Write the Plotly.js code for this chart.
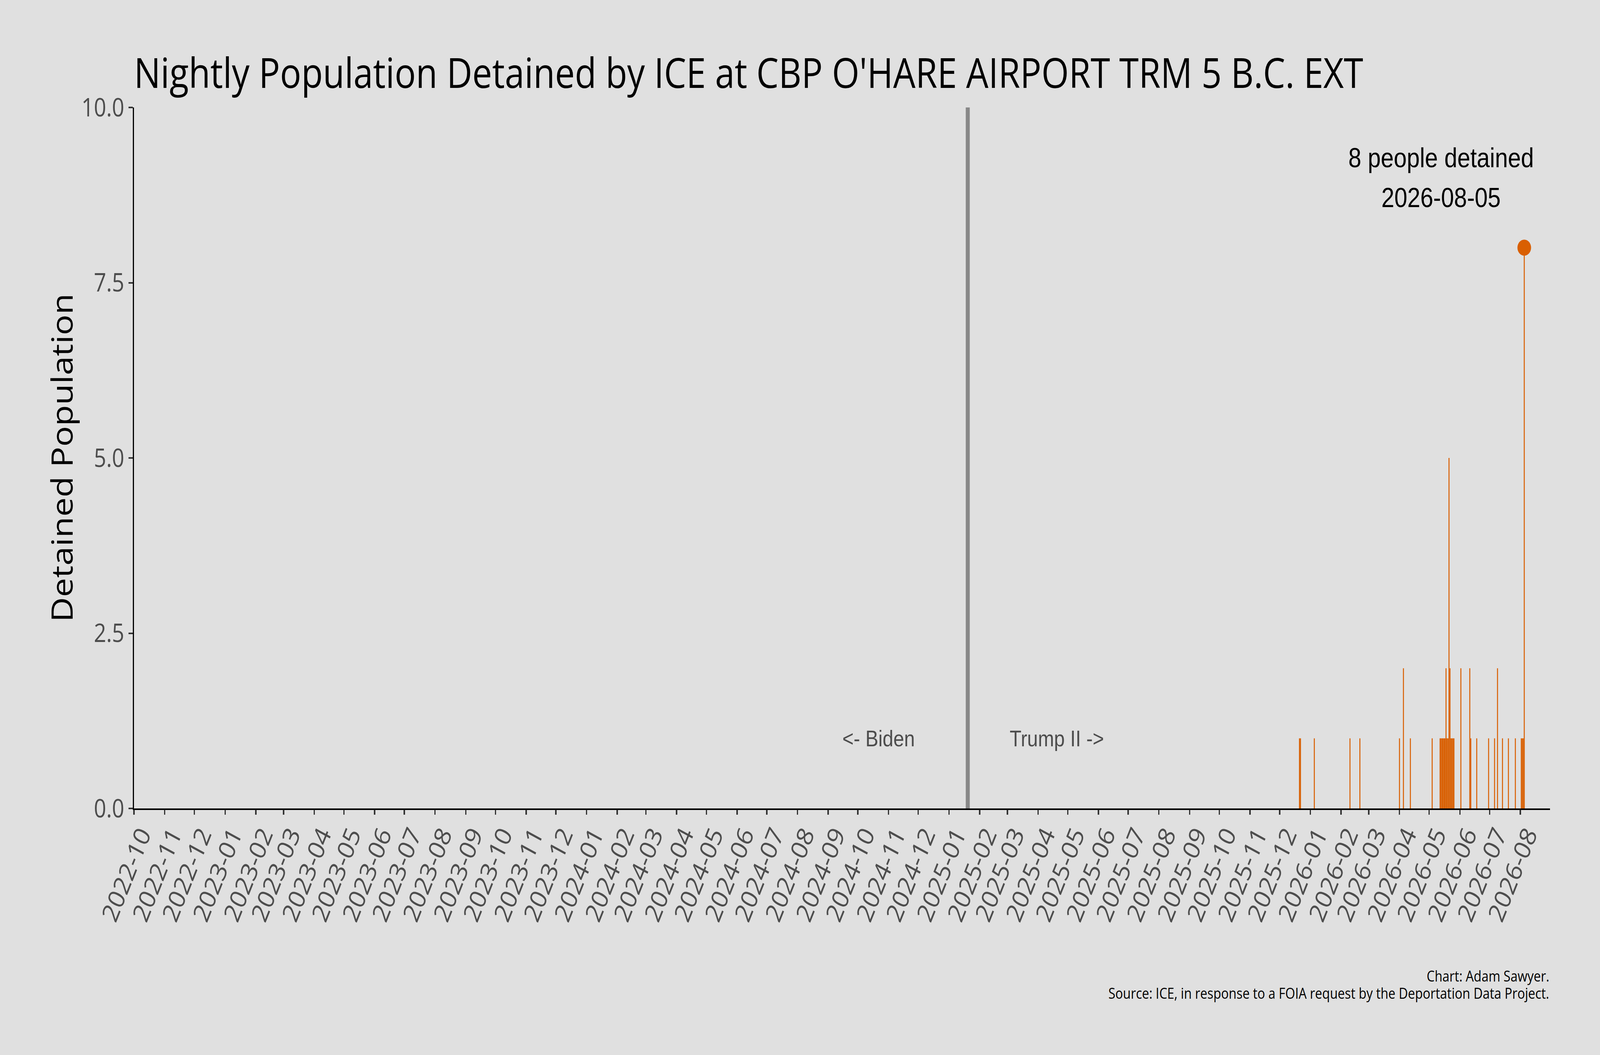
<!DOCTYPE html>
<html>
<head>
<meta charset="utf-8">
<script src="https://cdn.plot.ly/plotly-3.0.1.min.js"></script>
<style>
  html, body { margin: 0; padding: 0; background: #e0e0e0; overflow: hidden; }
  #chart { width: 4800px; height: 2700px; transform-origin: 0 0; }
</style>
</head>
<body>
<div id="chart"></div>
<script>
// ---- Data ----
const detentionDates = [
  '2025-12-21','2025-12-22','2026-01-05','2026-02-10','2026-02-20',
  '2026-04-01','2026-04-05','2026-04-12','2026-05-04',
  '2026-05-12','2026-05-13','2026-05-14','2026-05-15','2026-05-16','2026-05-17',
  '2026-05-18','2026-05-19','2026-05-20','2026-05-21','2026-05-22','2026-05-23',
  '2026-05-24','2026-05-25','2026-05-26',
  '2026-06-02','2026-06-11','2026-06-12','2026-06-18','2026-06-30',
  '2026-07-06','2026-07-09','2026-07-14','2026-07-20','2026-07-27',
  '2026-08-02','2026-08-03','2026-08-04','2026-08-05'
];
const detainedPopulation = [
  1,1,1,1,1,
  1,2,1,1,
  1,1,1,1,1,1,
  2,1,1,5,2,1,
  1,1,1,
  2,2,1,1,1,
  1,2,1,1,1,
  1,1,1,8
];
const monthTicks = [
  '2022-10','2022-11','2022-12',
  '2023-01','2023-02','2023-03','2023-04','2023-05','2023-06','2023-07','2023-08','2023-09','2023-10','2023-11','2023-12',
  '2024-01','2024-02','2024-03','2024-04','2024-05','2024-06','2024-07','2024-08','2024-09','2024-10','2024-11','2024-12',
  '2025-01','2025-02','2025-03','2025-04','2025-05','2025-06','2025-07','2025-08','2025-09','2025-10','2025-11','2025-12',
  '2026-01','2026-02','2026-03','2026-04','2026-05','2026-06','2026-07','2026-08'
];
const yTickVals = [0, 2.5, 5, 7.5, 10];
const yTickText = ['0.0', '2.5', '5.0', '7.5', '10.0'];
const xRange = ['2022-10-01', '2026-08-31'];
const inaugurationDate = '2025-01-20';
const eraLabels = ['<- Biden', 'Trump II ->'];
const eraLabelDates = ['2024-10-22', '2025-04-20'];
const eraLabelY = 1;
const peakLabelDate = '2026-05-13';
const facilityName = "CBP O'HARE AIRPORT TRM 5 B.C. EXT";
const captionLines = [
  'Chart: Adam Sawyer.',
  'Source: ICE, in response to a FOIA request by the Deportation Data Project.'
];

// ---- Derived ----
let peakIdx = 0;
detainedPopulation.forEach((v, i) => { if (v > detainedPopulation[peakIdx]) peakIdx = i; });
const peakDate = detentionDates[peakIdx];
const peakValue = detainedPopulation[peakIdx];

const ORANGE = '#D95F02';
const SANS = 'Open Sans, Noto Sans, sans-serif';
const ARIAL = 'Liberation Sans, Arial, sans-serif';

// Fit the 4800x2700 design to whatever viewport the page is opened in
const chartDiv = document.getElementById('chart');
const sx = (window.innerWidth || 4800) / 4800;
const sy = (window.innerHeight || 2700) / 2700;
chartDiv.style.transform = 'scale(' + sx + ',' + sy + ')';

const traces = [
  {
    type: 'bar',
    x: detentionDates,
    y: detainedPopulation,
    width: 86400000,
    marker: { color: ORANGE, line: { width: 0 } },
    showlegend: false
  },
  {
    type: 'scatter',
    mode: 'markers',
    x: [peakDate],
    y: [peakValue],
    marker: { color: ORANGE, size: 41, line: { width: 0 } },
    cliponaxis: false,
    showlegend: false
  }
];

const layout = {
  width: 4800,
  height: 2700,
  paper_bgcolor: '#e0e0e0',
  plot_bgcolor: '#e0e0e0',
  margin: { l: 402, r: 150, t: 275, b: 631 },
  showlegend: false,
  title: {
    text: 'Nightly Population Detained by ICE at ' + facilityName,
    font: { family: SANS, size: 106, color: '#000000' },
    xref: 'paper', x: 0, xanchor: 'left',
    yref: 'container', y: 1 - 188 / 2700, yanchor: 'middle'
  },
  xaxis: {
    type: 'date',
    range: xRange,
    tickvals: monthTicks.map(m => m + '-01'),
    ticktext: monthTicks,
    tickangle: -65,
    tickfont: { family: SANS, size: 68, color: '#4d4d4d' },
    ticks: 'outside', ticklen: 12, tickwidth: 4, tickcolor: '#333333',
    ticklabelshift: 22, ticklabelstandoff: -14,
    showline: true, linecolor: '#000000', linewidth: 4,
    showgrid: false, zeroline: false
  },
  yaxis: {
    range: [0, 10],
    tickvals: yTickVals,
    ticktext: yTickText,
    tickfont: { family: SANS, size: 65, color: '#4d4d4d' },
    ticks: 'outside', ticklen: 12, tickwidth: 4, tickcolor: '#333333',
    showline: true, linecolor: '#000000', linewidth: 4,
    showgrid: false, zeroline: false
  },
  shapes: [
    {
      type: 'line', xref: 'x', yref: 'y',
      x0: inaugurationDate, x1: inaugurationDate, y0: 0, y1: 10,
      line: { color: '#888888', width: 12 },
      layer: 'below'
    }
  ],
  annotations: [
    {
      text: 'Detained Population', textangle: -90,
      xref: 'paper', yref: 'paper', x: -0.0513, y: 0.5,
      xanchor: 'center', yanchor: 'middle', showarrow: false,
      font: { family: SANS, size: 88, color: '#000000' }
    },
    {
      text: eraLabels[0], x: eraLabelDates[0], y: eraLabelY, xref: 'x', yref: 'y',
      xanchor: 'center', yanchor: 'middle', showarrow: false,
      font: { family: ARIAL, size: 58, color: '#4d4d4d' }
    },
    {
      text: eraLabels[1], x: eraLabelDates[1], y: eraLabelY, xref: 'x', yref: 'y',
      xanchor: 'center', yanchor: 'middle', showarrow: false,
      font: { family: ARIAL, size: 58, color: '#4d4d4d' }
    },
    {
      text: peakValue + ' people detained', x: peakLabelDate, y: 9.28, xref: 'x', yref: 'y',
      xanchor: 'center', yanchor: 'middle', showarrow: false,
      font: { family: ARIAL, size: 70, color: '#000000' }
    },
    {
      text: peakDate, x: peakLabelDate, y: 8.71, xref: 'x', yref: 'y',
      xanchor: 'center', yanchor: 'middle', showarrow: false,
      font: { family: ARIAL, size: 70, color: '#000000' }
    },
    {
      text: captionLines[0], xref: 'paper', yref: 'paper', x: 1, y: (2069 - 2497) / 1794,
      xanchor: 'right', yanchor: 'middle', showarrow: false,
      font: { family: SANS, size: 38, color: '#000000' }
    },
    {
      text: captionLines[1],
      xref: 'paper', yref: 'paper', x: 1, y: (2069 - 2541) / 1794,
      xanchor: 'right', yanchor: 'middle', showarrow: false,
      font: { family: SANS, size: 38, color: '#000000' }
    }
  ]
};

Plotly.newPlot(chartDiv, traces, layout, { displayModeBar: false, staticPlot: true });
</script>
</body>
</html>
